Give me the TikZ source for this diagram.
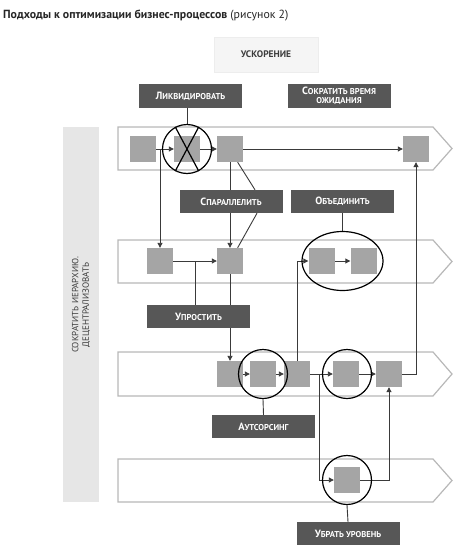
\documentclass[tikz,border=0pt]{standalone}
\usepackage{fontspec}
\setmainfont{PT Sans}
\usetikzlibrary{arrows.meta,shapes.geometric,calc}
\pgfdeclarelayer{bg}
\pgfsetlayers{bg,main}
\definecolor{lblgray}{HTML}{575757}
\definecolor{sqgray}{HTML}{A5A5A5}
\definecolor{bandgray}{HTML}{B8B8B8}
\definecolor{linegray}{HTML}{3A3A3A}
\definecolor{bargray}{HTML}{E6E6E6}
\definecolor{txtgray}{HTML}{3C3C3C}
\newcommand\smc[1]{{\fontsize{8.5}{9}\selectfont #1}}
\begin{document}
\begin{tikzpicture}[x=1pt,y=-1pt,
  sq/.style={fill=sqgray,draw=none,minimum width=26pt,minimum height=26pt,inner sep=0pt},
  lbl/.style={fill=lblgray,text=white,font=\bfseries\fontsize{10.5}{11}\selectfont,minimum width=103pt,minimum height=23pt,inner sep=0pt,align=center},
  band/.style={draw=bandgray,line width=1.2pt,fill=white},
  conn/.style={draw=linegray,line width=0.9pt},
  arr/.style={conn,-{Triangle[length=5pt,width=5pt]}},
  ring/.style={draw=black,line width=1.2pt,circle,minimum size=49pt,inner sep=0pt}]
\useasboundingbox (0,0) rectangle (474,557);
% title
\node[anchor=west,inner sep=0pt,font=\fontsize{11.8}{14}\selectfont,text=black!85] (title) at (3,16)
  {{\bfseries Подходы к оптимизации бизнес-процессов} (рисунок 2)};
% accel box
\node[fill=black!4,draw=black!7,minimum width=104pt,minimum height=35pt,inner sep=0pt,
  font=\bfseries\fontsize{9.5}{11}\selectfont,text=txtgray] (accel) at (266,54.5) {УСКОРЕНИЕ};
% left bar
\fill[bargray] (63,127) rectangle (99,502);
\node[rotate=90,align=center,font=\fontsize{9}{10.5}\selectfont,text=txtgray] (hier) at (81,305)
  {СОКРАТИТЬ ИЕРАРХИЮ.\\ДЕЦЕНТРАЛИЗОВАТЬ};
% squares
\node[sq] (s11) at (143,149) {};
\node[sq] (s12) at (187,149) {};
\node[sq] (s13) at (230,149) {};
\node[sq] (s14) at (416,149) {};
\node[sq] (s21) at (160,261) {};
\node[sq] (s22) at (230,261) {};
\node[sq] (s23) at (321.5,261) {};
\node[sq] (s24) at (363.5,261) {};
\node[sq] (s31) at (230,374) {};
\node[sq] (s32) at (263,374) {};
\node[sq] (s33) at (297,374) {};
\node[sq] (s34) at (346,374) {};
\node[sq] (s35) at (389,374) {};
\node[sq] (s41) at (347,480) {};
% rings
\node[ring] (ringA) at (s12) {};
\draw[black,line width=1.2pt] (ringA.118) -- (ringA.298) (ringA.62) -- (ringA.242);
\node[ring] (ringB) at (s32) {};
\node[ring] (ringC) at (347,374) {};
\node[ring] (ringD) at (s41) {};
\node[draw=black,line width=1.2pt,ellipse,minimum width=81pt,minimum height=59pt,inner sep=0pt] (ell) at (342.5,261) {};
% labels
\node[lbl,minimum height=24pt] (liq) at (190.5,96) {Л\smc{ИКВИДИРОВАТЬ}};
\node[lbl,minimum height=24pt,font=\bfseries\fontsize{10.5}{9.5}\selectfont] (wait) at (339,96) {С\smc{ОКРАТИТЬ ВРЕМЯ}\\\smc{ОЖИДАНИЯ}};
\node[lbl] (spar) at (231,201.5) {С\smc{ПАРАЛЛЕЛИТЬ}};
\node[lbl] (obj) at (342.5,201.5) {О\smc{БЪЕДИНИТЬ}};
\node[lbl] (simp) at (198.5,316.5) {У\smc{ПРОСТИТЬ}};
\node[lbl] (outs) at (263.5,426.5) {А\smc{УТСОРСИНГ}};
\node[lbl] (lvl) at (348,533.5) {У\smc{БРАТЬ УРОВЕНЬ}};
% bands and connectors (background)
\begin{pgfonlayer}{bg}
\draw[band] (118,127) -- (433,127) -- (452,148.5) -- (433,170) -- (118,170) -- cycle;
\draw[band] (118,240) -- (433,240) -- (452,261.5) -- (433,283) -- (118,283) -- cycle;
\draw[band] (118,352) -- (433,352) -- (452,374) -- (433,396) -- (118,396) -- cycle;
\draw[band] (118,459) -- (433,459) -- (452,480.5) -- (433,502) -- (118,502) -- cycle;
\draw[conn] (liq.south -| ringA) -- (ringA.north);
\draw[conn] ($(wait.south)+(-4,0)$) -- ($(wait.south)+(-4,0)$ |- s14);
\draw[arr] (s11.east) -- (s12.west);
\draw[arr] (s12.east) -- (s13.west);
\draw[arr] (s13.east) -- (s14.west);
\draw[arr] (s21 |- s11) -- (s21.north);
\draw[arr] (s13.south) -- (s22.north);
\draw[conn] (s13.-60) -- ($(spar.north)+(24,0)$);
\draw[conn] ($(spar.south)+(26,0)$) -- (s22.60);
\draw[arr] (s21.east) -- (s22.west);
\coordinate (j1) at ($(s21.east)!0.5!(s22.west)$);
\draw[conn] (j1) -- (j1 |- simp.north);
\draw[arr] (s22.south) -- (s31.north);
\draw[conn] (obj.south) -- (ell.north);
\draw[arr] (s23.east) -- (s24.west);
\draw[arr] (s33.north) |- (s23.west);
\draw[arr] (s31.east) -- (s32.west);
\draw[arr] (s32.east) -- (s33.west);
\draw[arr] (s33.east) -- (s34.west);
\draw[arr] (s34.east) -- (s35.west);
\draw[arr] (s35.east) -| (s14.south);
\coordinate (j2) at ($(s33.east)!0.4!(s34.west)$);
\draw[arr] (j2) |- (s41.west);
\draw[arr] (s41.east) -| (s35.south);
\draw[conn] (ringB.south) -- (outs.north);
\draw[conn] (ringD.south) -- (lvl.north);
\end{pgfonlayer}
\end{tikzpicture}
\end{document}
